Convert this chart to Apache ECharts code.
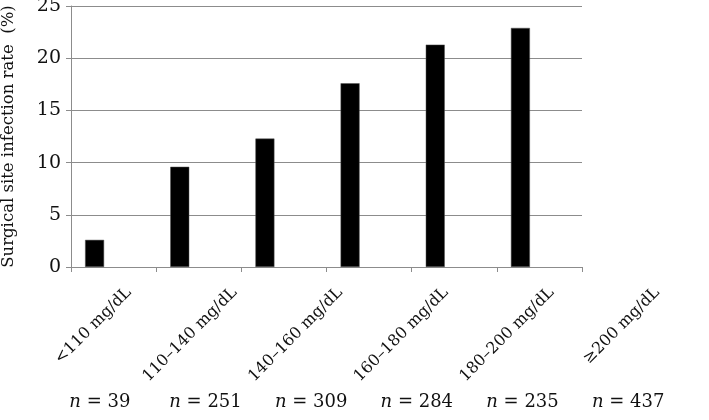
<!DOCTYPE html>
<html><head><meta charset="utf-8">
<script src="https://cdn.jsdelivr.net/npm/echarts@6/dist/echarts.min.js"></script>
<style>html,body{margin:0;padding:0;background:#fff}#c{width:709px;height:420px}</style>
</head><body><div id="c"></div>
<script>
const categories = ['<110 mg/dL','110–140 mg/dL','140–160 mg/dL','160–180 mg/dL','180–200 mg/dL','≥200 mg/dL'];
const rates = [2.6, 9.6, 12.3, 17.6, 21.3, 22.9];
const counts = [39, 251, 309, 284, 235, 437];
const yTicks = [0, 5, 10, 15, 20, 25];
const yTitle = 'Surgical site infection rate  (%)';

const FONT = 'DejaVu Serif';
const chart = echarts.init(document.getElementById('c'), null, {renderer: 'canvas'});
const gridColor = '#8c8c8c';
const gridBase = {top: 6, bottom: 153, containLabel: false, outerBoundsMode: 'none'};
chart.setOption({
  animation: false,
  grid: [
    Object.assign({left: 71, right: 127}, gridBase),
    Object.assign({left: 47, width: 634}, gridBase),
    Object.assign({left: 76, width: 634}, gridBase)
  ],
  xAxis: [
    {type: 'category', gridIndex: 0, data: categories, boundaryGap: true,
     axisLine: {lineStyle: {color: gridColor, width: 1}},
     axisTick: {show: true, length: 5, interval: 0, lineStyle: {color: gridColor}},
     axisLabel: {show: false, interval: 0}},
    {type: 'category', gridIndex: 1, data: counts,
     axisLine: {show: false}, axisTick: {show: false},
     axisLabel: {margin: 126, interval: 0, fontFamily: FONT, fontSize: 18, color: '#111',
       formatter: v => '{i|n} = ' + v,
       rich: {i: {fontStyle: 'italic', fontFamily: FONT, fontSize: 18, color: '#111'}}}},
    {type: 'category', gridIndex: 2, data: categories,
     axisLine: {show: false}, axisTick: {show: false},
     axisLabel: {rotate: 45, margin: 23, interval: 0, fontFamily: FONT, fontSize: 16, color: '#111'}}
  ],
  yAxis: [
    {type: 'value', gridIndex: 0, min: 0, max: 25, interval: 5,
     name: yTitle, nameLocation: 'middle', nameGap: 54, nameRotate: 90,
     nameTextStyle: {fontFamily: FONT, fontSize: 16.5, color: '#111'},
     axisLine: {show: true, lineStyle: {color: gridColor}},
     axisTick: {show: true, length: 5, lineStyle: {color: gridColor}},
     splitLine: {show: true, lineStyle: {color: gridColor, width: 1}},
     axisLabel: {margin: 10, fontFamily: FONT, fontSize: 19, color: '#111',
       formatter: v => yTicks.includes(v) ? String(v) : ''}},
    {type: 'value', gridIndex: 1, show: false},
    {type: 'value', gridIndex: 2, show: false}
  ],
  series: [
    {type: 'bar', xAxisIndex: 0, yAxisIndex: 0, data: rates, barWidth: 19, barGap: '0%',
     itemStyle: {color: '#000', borderColor: '#555', borderWidth: 0.5}},
    {type: 'bar', xAxisIndex: 0, yAxisIndex: 0, data: [], barWidth: 19},
    {type: 'bar', xAxisIndex: 0, yAxisIndex: 0, data: [], barWidth: 19}
  ]
});
</script></body></html>
